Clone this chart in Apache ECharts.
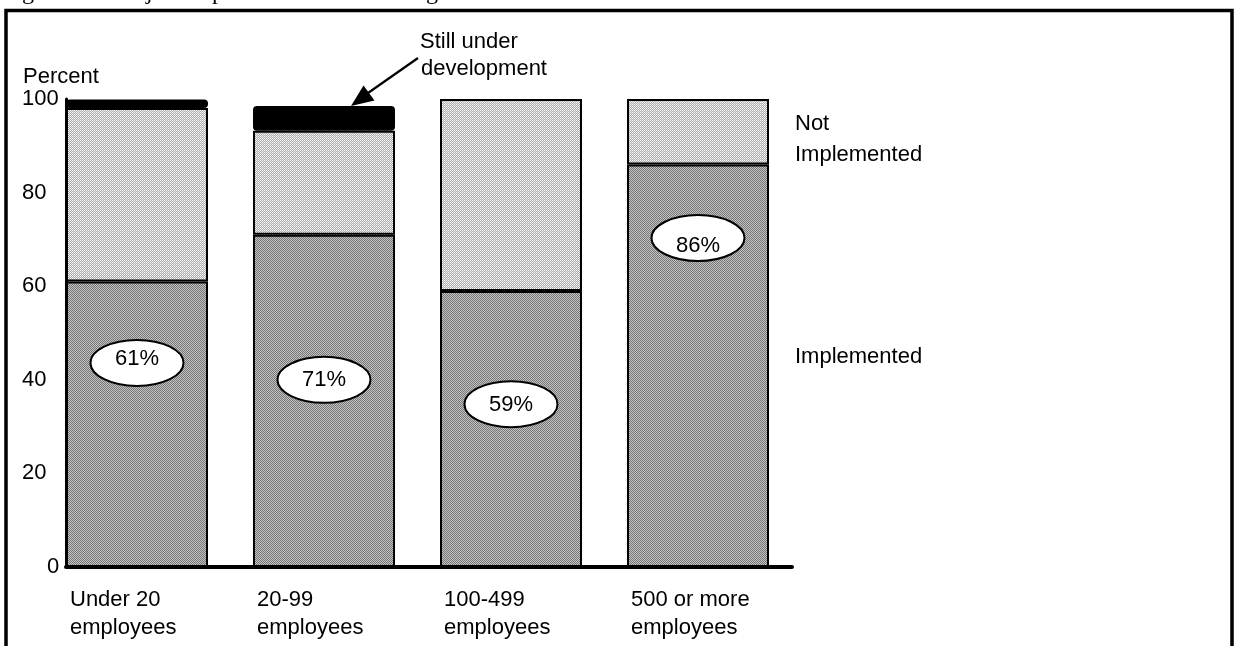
<!DOCTYPE html>
<html>
<head>
<meta charset="utf-8">
<script src="https://cdn.jsdelivr.net/npm/echarts@6/dist/echarts.min.js"></script>
<style>
  html, body { margin: 0; padding: 0; background: #fff; }
  #chart { width: 1235px; height: 646px; }
</style>
</head>
<body>
<div id="chart"></div>
<script>
// Firm-size groups and the share of projects in each state (percent)
const categories = ['Under 20\nemployees', '20-99\nemployees', '100-499\nemployees', '500 or more\nemployees'];
const implemented = [61, 71, 59, 86];
const notImplemented = [37.1, 22.2, 41, 14];
const underDevelopment = [1.8, 5.3, null, null];
const yTicks = [0, 20, 40, 60, 80, 100];

// Where each percentage badge sits on the value scale
const badgeLevel = [43.6, 40, 34.8, 70.3];
const badgeTextShift = [-4, 0, 1, 8];

const FONT = '"Liberation Sans", Arial, sans-serif';

// Small repeating tiles used as halftone fills
function tile(size, pick) {
  const c = document.createElement('canvas');
  c.width = c.height = size;
  const g = c.getContext('2d');
  for (let y = 0; y < size; y++) {
    for (let x = 0; x < size; x++) {
      g.fillStyle = pick(x, y);
      g.fillRect(x, y, 1, 1);
    }
  }
  return c;
}
const darkDots = tile(2, (x, y) => ((x + y) % 2 === 0 ? '#777777' : '#c2c2c2'));
const lightMesh = tile(2, (x, y) =>
  (x % 2 === 0 && y % 2 === 0) ? '#ffffff' : ((x + y) % 2 === 1 ? '#acacac' : '#e6e6e6'));

const chart = echarts.init(document.getElementById('chart'), null, { renderer: 'canvas' });

const BAR_W = 142;
const segStyle = (fill) => ({ color: fill, borderColor: '#000', borderWidth: 2 });

const option = {
  animation: false,
  backgroundColor: '#fff',
  grid: { left: 43.5, right: 443.5, top: 99, bottom: 79, containLabel: false, outerBoundsMode: 'none' },
  xAxis: {
    type: 'category',
    data: categories,
    axisLine: { show: false },
    axisTick: { show: false },
    axisLabel: {
      interval: 0,
      margin: 19,
      align: 'center',
      verticalAlign: 'top',
      formatter: (v) => v.split('\n').map(s => '{a|' + s + '}').join('\n'),
      rich: {
        a: { width: 138, align: 'left', padding: [0, 0, 0, 4], fontFamily: FONT, fontSize: 22, lineHeight: 28, color: '#000' }
      }
    }
  },
  yAxis: {
    type: 'value',
    min: yTicks[0],
    max: yTicks[yTicks.length - 1],
    interval: yTicks[1] - yTicks[0],
    offset: -22.5,
    axisLine: { show: true, lineStyle: { color: '#000', width: 3 } },
    axisTick: { show: false },
    splitLine: { show: false },
    axisLabel: {
      margin: 44,
      align: 'left',
      formatter: (v) => (v === 0 ? '{z|0}' : '{n|' + v + '}'),
      rich: {
        n: { fontFamily: FONT, fontSize: 22, color: '#000' },
        z: { fontFamily: FONT, fontSize: 22, color: '#000', padding: [0, 0, 0, 25] }
      }
    }
  },
  series: [
    {
      name: 'Implemented', type: 'bar', stack: 'share', barWidth: BAR_W, silent: true,
      data: implemented, itemStyle: segStyle({ image: darkDots, repeat: 'repeat' })
    },
    {
      name: 'Not Implemented', type: 'bar', stack: 'share', barWidth: BAR_W, silent: true,
      data: notImplemented, itemStyle: segStyle({ image: lightMesh, repeat: 'repeat' })
    },
    {
      name: 'Still under development', type: 'bar', stack: 'share', barWidth: BAR_W, silent: true,
      data: underDevelopment, itemStyle: { color: '#000', borderColor: '#000', borderWidth: 2, borderRadius: 3 }
    },
    {
      name: 'badges', type: 'custom', coordinateSystem: 'cartesian2d', silent: true, z: 5,
      data: badgeLevel.map((v, i) => [i, v]),
      renderItem: (params, api) => {
        const i = params.dataIndex;
        const p = api.coord([api.value(0), api.value(1)]);
        return {
          type: 'group',
          children: [
            { type: 'ellipse', shape: { cx: p[0], cy: p[1], rx: 46.5, ry: 23 },
              style: { fill: '#fff', stroke: '#000', lineWidth: 2 } },
            { type: 'text', x: p[0], y: p[1] + badgeTextShift[i],
              style: { text: implemented[i] + '%', font: '22px ' + FONT, fill: '#000', align: 'center', verticalAlign: 'middle' } }
          ]
        };
      }
    }
  ],
  graphic: [
    // figure caption, running off the top edge, and the page frame below it
    { type: 'text', x: 2, y: 5, style: { text: 'Figure 10.  Project implementation according to firm size', font: '24px "Liberation Serif", "Times New Roman", serif', fill: '#000', verticalAlign: 'bottom' } },
    { type: 'rect', shape: { x: 6, y: 10.5, width: 1226, height: 700 }, style: { fill: 'none', stroke: '#000', lineWidth: 3.5 }, z: 10 },
    // axis title
    { type: 'text', x: 23, y: 77, style: { text: 'Percent', font: '22px ' + FONT, fill: '#000', verticalAlign: 'middle' } },
    // call-out for the black cap
    { type: 'text', x: 420, y: 42, style: { text: 'Still under', font: '22px ' + FONT, fill: '#000', verticalAlign: 'middle' } },
    { type: 'text', x: 421, y: 69, style: { text: 'development', font: '22px ' + FONT, fill: '#000', verticalAlign: 'middle' } },
    { type: 'line', shape: { x1: 418, y1: 58, x2: 368, y2: 93 }, style: { stroke: '#000', lineWidth: 2.2 } },
    { type: 'polygon', shape: { points: [[351, 106], [374.5, 100.5], [363.5, 85.5]] }, style: { fill: '#000' } },
    // segment names on the right
    { type: 'text', x: 795, y: 124, style: { text: 'Not', font: '22px ' + FONT, fill: '#000', verticalAlign: 'middle' } },
    { type: 'text', x: 795, y: 155, style: { text: 'Implemented', font: '22px ' + FONT, fill: '#000', verticalAlign: 'middle' } },
    { type: 'text', x: 795, y: 357, style: { text: 'Implemented', font: '22px ' + FONT, fill: '#000', verticalAlign: 'middle' } }
  ]
};

chart.setOption(option);

// Baseline: starts at the value axis and runs just past the last bar
const yZero = chart.convertToPixel({ yAxisIndex: 0 }, 0);
const xFirst = chart.convertToPixel({ xAxisIndex: 0 }, categories[0]) - BAR_W / 2;
const xLast = chart.convertToPixel({ xAxisIndex: 0 }, categories[categories.length - 1]) + BAR_W / 2 + 23;
chart.setOption({
  graphic: option.graphic.concat([
    { type: 'line', z: 8, shape: { x1: xFirst, y1: yZero, x2: xLast, y2: yZero }, style: { stroke: '#000', lineWidth: 4, lineCap: 'round' } }
  ])
});
</script>
</body>
</html>
